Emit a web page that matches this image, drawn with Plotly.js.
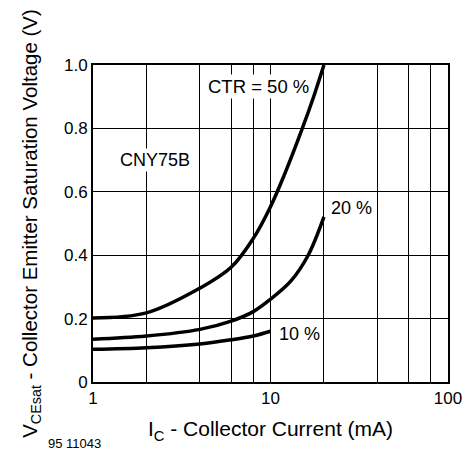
<!DOCTYPE html>
<html>
<head>
<meta charset="utf-8">
<script src="https://cdn.plot.ly/plotly-3.0.1.min.js"></script>
<style>html,body{margin:0;padding:0;background:#fff;}#chart{width:473px;height:453px;}</style>
</head>
<body>
<div id="chart"></div>
<script>
// Collector current (mA) and saturation voltage (V) per CTR curve
const ic50 = [1, 2, 4, 6, 8, 10, 12, 15, 17.5, 20];
const vce50 = [0.202, 0.218, 0.296, 0.362, 0.453, 0.553, 0.655, 0.795, 0.9, 1.0];
const ic20 = [1, 2, 4, 6, 8, 10, 13, 16.3, 20];
const vce20 = [0.135, 0.145, 0.166, 0.192, 0.222, 0.261, 0.318, 0.4, 0.521];
const ic10 = [1, 2, 4, 6, 8, 10];
const vce10 = [0.103, 0.108, 0.12, 0.133, 0.145, 0.16];

const xTickVals = [1, 10, 100];
const xTickText = ['1', '10', '100'];
const xMinorGrid = [2, 4, 6, 8, 20, 40, 60, 80];
const yTickVals = [0, 0.2, 0.4, 0.6, 0.8, 1.0];
const yTickText = ['0', '0.2', '0.4', '0.6', '0.8', '1.0'];

const lineStyle = {color: '#000', width: 3.5, shape: 'spline', smoothing: 1};
const traces = [
  {x: ic50, y: vce50, mode: 'lines', line: lineStyle, name: 'CTR = 50 %'},
  {x: ic20, y: vce20, mode: 'lines', line: lineStyle, name: '20 %'},
  {x: ic10, y: vce10, mode: 'lines', line: lineStyle, name: '10 %'}
];

const font = 'Liberation Sans, Arial, Helvetica, sans-serif';
const layout = {
  width: 473, height: 453,
  margin: {l: 93, r: 25, t: 65, b: 71},
  paper_bgcolor: '#fff', plot_bgcolor: '#fff',
  showlegend: false,
  font: {family: font, color: '#000', size: 17},
  xaxis: {
    type: 'log', range: [0, 2],
    tickmode: 'array', tickvals: xTickVals, ticktext: xTickText,
    showgrid: true, gridcolor: '#000', gridwidth: 1,
    minor: {tickmode: 'array', tickvals: xMinorGrid, showgrid: true, gridcolor: '#000', gridwidth: 1, ticks: ''},
    showline: true, linecolor: '#000', linewidth: 2, mirror: true,
    ticks: '', zeroline: false,
    tickfont: {size: 17},
    title: {text: 'I<sub>C</sub> - Collector Current (mA)', font: {size: 21}, standoff: 14}
  },
  yaxis: {
    range: [0, 1],
    tickmode: 'array', tickvals: yTickVals, ticktext: yTickText,
    showgrid: true, gridcolor: '#000', gridwidth: 1,
    showline: true, linecolor: '#000', linewidth: 2, mirror: true,
    ticks: '', zeroline: false,
    tickfont: {size: 17},
    title: {text: 'V<sub>CEsat</sub> - Collector Emitter Saturation Voltage (V)', font: {size: 20.5}, standoff: 21}
  },
  annotations: [
    {xref: 'paper', yref: 'paper', x: 0.318, y: 0.931, xanchor: 'left', yanchor: 'middle', text: 'CTR = 50 %', showarrow: false, font: {size: 18.5}, bgcolor: '#fff'},
    {xref: 'paper', yref: 'paper', x: 0.665, y: 0.549, xanchor: 'left', yanchor: 'middle', text: '20 %', showarrow: false, font: {size: 18}, bgcolor: '#fff'},
    {xref: 'paper', yref: 'paper', x: 0.519, y: 0.150, xanchor: 'left', yanchor: 'middle', text: '10 %', showarrow: false, font: {size: 18}, bgcolor: '#fff'},
    {xref: 'paper', yref: 'paper', x: 0.071, y: 0.700, xanchor: 'left', yanchor: 'middle', text: 'CNY75B', showarrow: false, font: {size: 18}, bgcolor: '#fff'},
    {xref: 'paper', yref: 'paper', x: -0.131, y: -0.194, xanchor: 'left', yanchor: 'middle', text: '95 11043', showarrow: false, font: {size: 13}}
  ]
};

Plotly.newPlot('chart', traces, layout, {displayModeBar: false, staticPlot: true});
</script>
</body>
</html>
